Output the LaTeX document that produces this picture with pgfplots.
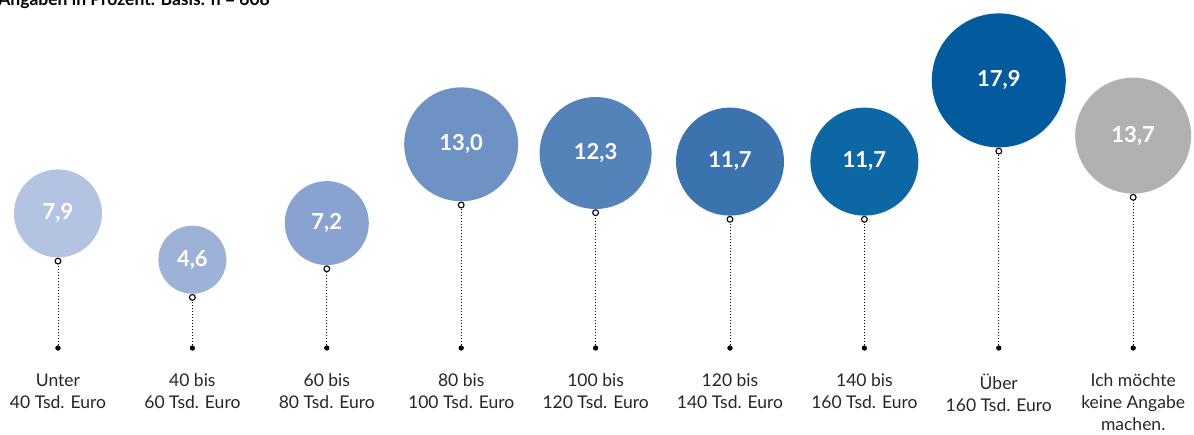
\documentclass[border=0pt]{standalone}
\usepackage{fontspec}
\setmainfont{Lato}
\usepackage{pgfplots}
\usepackage{pgfplotstable}
\pgfplotsset{compat=1.18}
\definecolor{c1}{HTML}{B4C3E1}
\definecolor{c2}{HTML}{9EB2D8}
\definecolor{c3}{HTML}{89A2CF}
\definecolor{c4}{HTML}{6F92C4}
\definecolor{c5}{HTML}{5483BA}
\definecolor{c6}{HTML}{3A73AE}
\definecolor{c7}{HTML}{0E67A5}
\definecolor{c8}{HTML}{035A9C}
\definecolor{c9}{HTML}{B1B1B3}
\pgfplotstableread{
x v d
0 7.9 88
1 4.6 68
2 7.2 84
3 13.0 114
4 12.3 112
5 11.7 108
6 11.7 108
7 17.9 134
8 13.7 116
}\data
\pgfplotsset{bubble/.style 2 args={draw=none, mark=none, forget plot,
  nodes near coords, nodes near coords align=vertical,
  nodes near coords style={circle, fill=#1, minimum size=#2pt, inner sep=0pt, anchor=south, yshift=3.5pt, text=white, font=\fontsize{22}{26}\selectfont\bfseries}}}
\begin{document}
\begin{tikzpicture}
\path[use as bounding box] (0,0) rectangle (1194pt,434pt);
\begin{axis}[at={(0,0)}, anchor=south west, scale only axis,
  x=134.4pt, y=11pt, xmin=-0.4315, xmax=8.4524, ymin=-7.818, ymax=31.636,
  hide axis, clip=false,
  /pgf/number format/use comma, /pgf/number format/fixed,
  /pgf/number format/fixed zerofill, /pgf/number format/precision=1,
  /pgf/number format/assume math mode=true]
\addplot[ycomb, black, line width=0.9pt, dash pattern=on 0.9pt off 2.1pt, mark=none] table[x=x,y=v]{\data};
\addplot[bubble={c1}{88}] coordinates {(0,7.9)};
\addplot[bubble={c2}{68}] coordinates {(1,4.6)};
\addplot[bubble={c3}{84}] coordinates {(2,7.2)};
\addplot[bubble={c4}{114}] coordinates {(3,13.0)};
\addplot[bubble={c5}{112}] coordinates {(4,12.3)};
\addplot[bubble={c6}{108}] coordinates {(5,11.7)};
\addplot[bubble={c7}{108}] coordinates {(6,11.7)};
\addplot[bubble={c8}{134}] coordinates {(7,17.9)};
\addplot[bubble={c9}{116}] coordinates {(8,13.7)};
\addplot[only marks, mark=*, mark size=2.9pt, mark options={fill=white, draw=black, line width=1.1pt}] table[x=x,y=v]{\data};
\addplot[only marks, mark=*, mark size=2.4pt, black] coordinates {(0,0) (1,0) (2,0) (3,0) (4,0) (5,0) (6,0) (7,0) (8,0)};
\begin{scope}[every node/.style={anchor=north, align=center, inner sep=0pt, font=\fontsize{17.5}{22}\selectfont, text=black!85}]
\node at (axis cs:0,-2.3) {Unter\\40 Tsd. Euro};
\node at (axis cs:1,-2.3) {40 bis\\60 Tsd. Euro};
\node at (axis cs:2,-2.3) {60 bis\\80 Tsd. Euro};
\node at (axis cs:3,-2.3) {80 bis\\100 Tsd. Euro};
\node at (axis cs:4,-2.3) {100 bis\\120 Tsd. Euro};
\node at (axis cs:5,-2.3) {120 bis\\140 Tsd. Euro};
\node at (axis cs:6,-2.3) {140 bis\\160 Tsd. Euro};
\node at (axis cs:7,-2.3) {Über\\160 Tsd. Euro};
\node at (axis cs:8,-2.3) {Ich möchte\\keine Angabe\\machen.};
\end{scope}
\end{axis}
\node[anchor=base east, inner sep=0pt, font=\fontsize{17.5}{19}\selectfont\bfseries] at (270pt,428pt) {Angaben in Prozent. Basis: n = 608};
\end{tikzpicture}
\end{document}
